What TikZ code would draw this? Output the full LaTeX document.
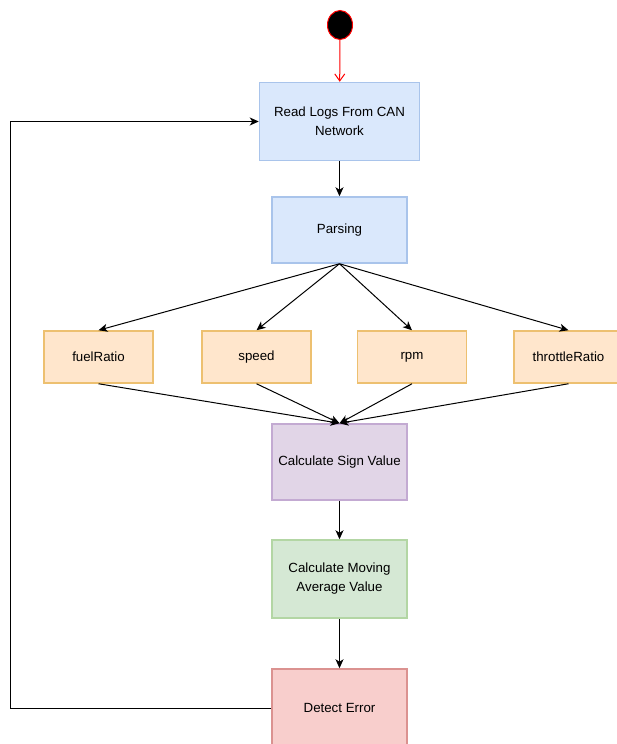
\documentclass[tikz,border=0pt]{standalone}
\usepackage{fontspec}
\setmainfont{Liberation Sans}
\usetikzlibrary{shapes.geometric, arrows.meta}
\definecolor{bluefill}{HTML}{DAE8FC}
\definecolor{bluedraw}{HTML}{A9C4EB}
\definecolor{orangefill}{HTML}{FFE6CC}
\definecolor{orangedraw}{HTML}{EDC070}
\definecolor{purplefill}{HTML}{E1D5E7}
\definecolor{purpledraw}{HTML}{C3AAD2}
\definecolor{greenfill}{HTML}{D5E8D4}
\definecolor{greendraw}{HTML}{B3D6A4}
\definecolor{redfill}{HTML}{F8CECC}
\definecolor{reddraw}{HTML}{DB9290}
\tikzstyle{initial} = [ellipse, minimum width=25pt, minimum height=29pt, inner sep=0pt, draw=red, fill=black, line width=1pt]
\tikzstyle{process} = [rectangle, minimum width=135pt, text centered, align=center, draw=bluedraw, fill=bluefill, line width=1.5pt, font=\fontsize{13.3}{19}\selectfont]
\tikzstyle{signal} = [process, minimum width=109pt, minimum height=52pt, draw=orangedraw, fill=orangefill]
\tikzstyle{arrow} = [line width=1pt, -{Stealth[length=9pt, width=8pt, inset=2.5pt]}]
\tikzstyle{startarrow} = [line width=1pt, draw=red, -{Straight Barb[length=7pt, width=10pt]}]

\begin{document}
\begin{tikzpicture}[x=1pt, y=-1pt]
    \useasboundingbox (0,0) rectangle (617,744);
    \node (start) [initial] at (340,25) {};
    \node (read_logs) [process, minimum width=160pt, minimum height=78pt] at (339.5,121.5) {Read Logs From CAN\\Network};
    \node (parsing) [process, minimum height=66pt] at (339.5,230) {Parsing};
    \node (fuel_ratio) [signal] at (98.5,357) {fuelRatio};
    \node (speed) [signal] at (256.5,357) {speed};
    \node (rpm) [signal] at (412,357) {rpm};
    \node (throttle_ratio) [signal] at (568.5,357) {throttleRatio};
    \node (sign_value) [process, minimum height=76pt, draw=purpledraw, fill=purplefill] at (339.5,462) {Calculate Sign Value};
    \node (moving_avg) [process, minimum height=78pt, draw=greendraw, fill=greenfill] at (339.5,579) {Calculate Moving\\Average Value};
    \node (detect_error) [process, minimum height=78pt, draw=reddraw, fill=redfill] at (339.5,708) {Detect Error};
    \coordinate (loop_back) at (10,708);

    \draw [startarrow] (start) -- (read_logs);
    \draw [arrow] (read_logs) -- (parsing);
    \draw [arrow] (parsing.south) -- (fuel_ratio.north);
    \draw [arrow] (parsing.south) -- (speed.north);
    \draw [arrow] (parsing.south) -- (rpm.north);
    \draw [arrow] (parsing.south) -- (throttle_ratio.north);
    \draw [arrow] (fuel_ratio.south) -- (sign_value.north);
    \draw [arrow] (speed.south) -- (sign_value.north);
    \draw [arrow] (rpm.south) -- (sign_value.north);
    \draw [arrow] (throttle_ratio.south) -- (sign_value.north);
    \draw [arrow] (sign_value) -- (moving_avg);
    \draw [arrow] (moving_avg) -- (detect_error);
    \draw [arrow] (detect_error.west) -- (loop_back) |- (read_logs.west);
\end{tikzpicture}
\end{document}
